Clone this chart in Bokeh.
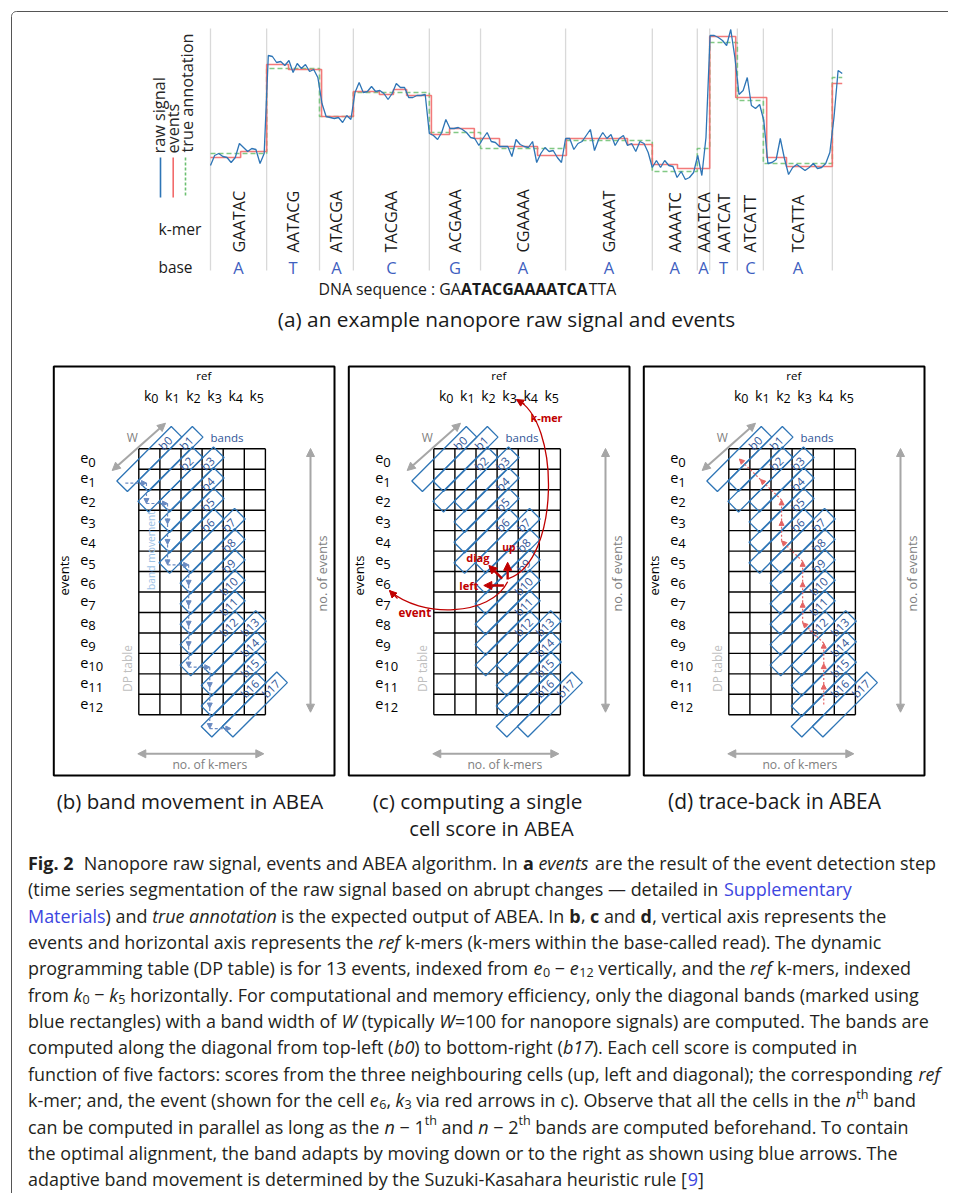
import math
from bokeh.plotting import figure
from bokeh.models import Range1d, ColumnDataSource, Arrow, NormalHead
from bokeh.core.properties import value, field
from bokeh.embed import file_html
from bokeh.resources import INLINE

# ---------------- data ----------------
# (a) raw signal, one value per sample (arbitrary current units)
raw_signal = [
    15, 25, 27, 24, 23, 18, 23, 37, 33, 29,
    32, 31, 17, 27, 125, 124, 118, 119, 115, 120,
    108, 117, 112, 116, 109, 111, 103, 77, 64, 63,
    62, 63, 58, 65, 61, 88, 98, 88, 89, 94,
    89, 90, 87, 81, 87, 97, 93, 93, 83, 83,
    85, 85, 86, 47, 45, 41, 48, 61, 52, 52,
    53, 51, 48, 43, 42, 35, 42, 48, 39, 38,
    34, 34, 34, 24, 41, 36, 34, 33, 39, 18,
    27, 33, 29, 30, 23, 18, 42, 42, 31, 37,
    39, 45, 51, 30, 41, 48, 42, 46, 35, 42,
    45, 35, 37, 29, 39, 37, 28, 13, 20, 13,
    20, 15, 14, 3, 9, 1, 3, 8, 25, 5,
    43, 145, 145, 143, 140, 135, 151, 123, 86, 90,
    103, 75, 72, 76, 60, 17, 18, 21, 42, 22,
    6, 13, 16, 13, 10, 13, 17, 12, 13, 17,
    28, 63, 110, 107]
# detected events: boundaries (in samples) and mean levels
event_bounds = [0, 7.3, 13.6, 18.9, 26.9, 34.6, 40.9, 44.3, 47.5, 53.5, 57.9, 63.9,
                70.0, 79.2, 86.2, 101.0, 107.0, 113.1, 120.9, 127.2, 134.7, 139.5, 150.6, 153.0]
event_levels = [23, 29, 116, 111, 64, 89, 86, 91, 85, 46, 52, 42, 34, 25, 42, 36, 16, 12,
                144, 83, 23, 14, 97]
# true annotation: k-mer boundaries (in samples) and model levels
annot_bounds = [0, 13.6, 26.4, 34.6, 53.0, 65.4, 86.0, 107.0, 117.9, 120.9, 127.6, 133.9, 150.6, 153.0]
annot_levels = [27, 112, 64, 88, 48, 32, 40, 9, 32, 138, 80, 17, 103]
kmers = ["GAATAC", "AATACG", "ATACGA", "TACGAA", "ACGAAA", "CGAAAA", "GAAAAT",
         "AAAATC", "AAATCA", "AATCAT", "ATCATT", "TCATTA"]
bases = ["A", "T", "A", "C", "G", "A", "A", "A", "A", "T", "C", "A"]

# (b)-(d) DP table
n_events = 13
n_kmers = 6
band_moves = ["R", "D", "R", "D", "D", "D", "R", "D", "D", "D", "D", "D", "R", "D", "D", "D", "R"]
example_cell = (3, 6)        # (k, e) cell explained in (c)
trace_k = [4, 4, 4, 4, 3, 3, 3, 3, 2, 2, 2, 1, 0]
trace_e = [12, 11, 10, 9, 8, 7, 6, 5, 4, 3, 2, 1, 0]
panel_titles = [["(b) band movement in ABEA"],
                ["(c) computing a single", "cell score in ABEA"],
                ["(d) trace-back in ABEA"]]

CAPTION_LINES = [
    [("Fig. 2", "b"), ("  Nanopore raw signal, events and ABEA algorithm. In ", "n"), ("a", "b"), (" ", "n"),
     ("events", "i"), (" are the result of the event detection step", "n")],
    [("(time series segmentation of the raw signal based on abrupt changes \u2014 detailed in ", "n"),
     ("Supplementary", "link")],
    [("Materials", "link"), (") and ", "n"), ("true annotation", "i"), (" is the expected output of ABEA. In ", "n"),
     ("b", "b"), (", ", "n"), ("c", "b"), (" and ", "n"), ("d", "b"), (", vertical axis represents the", "n")],
    [("events and horizontal axis represents the ", "n"), ("ref", "i"),
     (" k-mers (k-mers within the base-called read). The dynamic", "n")],
    [("programming table (DP table) is for 13 events, indexed from ", "n"), ("e", "i"), ("0", "sub"),
     (" \u2212 ", "n"), ("e", "i"), ("12", "sub"), (" vertically, and the ", "n"), ("ref", "i"),
     (" k-mers, indexed", "n")],
    [("from ", "n"), ("k", "i"), ("0", "sub"), (" \u2212 ", "n"), ("k", "i"), ("5", "sub"),
     (" horizontally. For computational and memory efficiency, only the diagonal bands (marked using", "n")],
    [("blue rectangles) with a band width of ", "n"), ("W", "i"), (" (typically ", "n"), ("W", "i"),
     ("=100 for nanopore signals) are computed. The bands are", "n")],
    [("computed along the diagonal from top-left (", "n"), ("b0", "i"), (") to bottom-right (", "n"),
     ("b17", "i"), ("). Each cell score is computed in", "n")],
    [("function of five factors: scores from the three neighbouring cells (up, left and diagonal); the corresponding ", "n"),
     ("ref", "i")],
    [("k-mer; and, the event (shown for the cell ", "n"), ("e", "i"), ("6", "sub"), (", ", "n"), ("k", "i"),
     ("3", "sub"), (" via red arrows in c). Observe that all the cells in the ", "n"), ("n", "i"), ("th", "sup"),
     (" band", "n")],
    [("can be computed in parallel as long as the ", "n"), ("n", "i"), (" \u2212 1", "n"), ("th", "sup"),
     (" and ", "n"), ("n", "i"), (" \u2212 2", "n"), ("th", "sup"),
     (" bands are computed beforehand. To contain", "n")],
    [("the optimal alignment, the band adapts by moving down or to the right as shown using blue arrows. The", "n")],
    [("adaptive band movement is determined by the Suzuki-Kasahara heuristic rule [", "n"), ("9", "link"), ("]", "n")],
]

# ---------------- styling / layout ----------------
FONT = value("Open Sans")
RAW_C, EV_C, TA_C = "#2e75b6", "#f26b6b", "#6cc070"
BAND_C, BAND_TXT = "#2e75b6", "#2f5597"
GRAY_A, GRAY_T, DP_T = "#a6a6a6", "#808080", "#bfbfbf"
MOVE_C, MOVE_T = "#6a8bc2", "#9dc3e6"
RED, TRACE_C = "#c00000", "#e46464"
BASE_C = "#3f5fbf"
CAP_C, LINK_C = "#231f20", "#3c46e0"

X0, Y0, FW, FH = 0, 0, 948, 1193
p = figure(width=FW, height=FH, x_range=Range1d(X0, X0 + FW), y_range=Range1d(Y0 + FH, Y0),
           output_backend="svg", toolbar_location=None, x_axis_type=None, y_axis_type=None,
           min_border=0, outline_line_color=None)
p.grid.visible = False
p.background_fill_color = "white"

# approx Open Sans advance widths (units / 2048)
_W = {' ': 532, '!': 547, '(': 606, ')': 606, ',': 502, '-': 659, '.': 545, '/': 752, ':': 545, ';': 545,
      '=': 1171, '[': 674, ']': 674, '\u2014': 2048, '\u2212': 1171,
      'A': 1296, 'B': 1327, 'C': 1292, 'D': 1493, 'E': 1139, 'F': 1057, 'G': 1491, 'H': 1511, 'I': 571,
      'J': 547, 'K': 1257, 'L': 1063, 'M': 1849, 'N': 1544, 'O': 1595, 'P': 1233, 'Q': 1595, 'R': 1266,
      'S': 1104, 'T': 1143, 'U': 1511, 'V': 1212, 'W': 1890, 'X': 1178, 'Y': 1151, 'Z': 1165,
      'a': 1139, 'b': 1255, 'c': 975, 'd': 1255, 'e': 1149, 'f': 694, 'g': 1122, 'h': 1257, 'i': 518,
      'j': 518, 'k': 1075, 'l': 518, 'm': 1905, 'n': 1257, 'o': 1237, 'p': 1255, 'q': 1255, 'r': 836,
      's': 977, 't': 723, 'u': 1257, 'v': 1026, 'w': 1593, 'x': 1073, 'y': 1028, 'z': 977}


def em(s, style="normal"):
    w = sum(_W.get(ch, 1171 if ch.isdigit() else 1100) for ch in s) / 2048.0
    return w * (1.07 if style == "bold" else 0.945 if style == "italic" else 1.0)


def fit(s, width, style="normal"):
    return width / em(s, style)


def txt(x, y, s, size, color="#000000", align="left", baseline="middle", angle=0.0,
        style="normal", xr="default", yr="default", **kw):
    n = max(len(v) if isinstance(v, list) else 1 for v in (x, y, s))
    xs = x if isinstance(x, list) else [x] * n
    ys = y if isinstance(y, list) else [y] * n
    ss = s if isinstance(s, list) else [s] * n
    p.text(x=xs, y=ys, text=ss, text_font=FONT,
           text_font_size=f"{size:.2f}px", text_color=color, text_align=align,
           text_baseline=baseline, angle=angle, text_font_style=style,
           x_range_name=xr, y_range_name=yr, **kw)


# ---------------- frame ----------------
corner = [(16 + 5 * math.cos(a / 10 * math.pi / 2 + math.pi), 16 + 5 * math.sin(a / 10 * math.pi / 2 + math.pi))
          for a in range(11)]
p.line([11] + [c[0] for c in corner] + [X0 + FW], [Y0 + FH] + [c[1] for c in corner] + [11],
       line_color="#555555", line_width=1)

# ---------------- (a) signal ----------------
SIG_X0, SIG_DX, SIG_Y0 = 210.0, 4.129, 180.0
p.extra_x_ranges["t"] = Range1d((X0 - SIG_X0) / SIG_DX, (X0 + FW - SIG_X0) / SIG_DX)
p.extra_y_ranges["sig"] = Range1d(SIG_Y0 - (Y0 + FH), SIG_Y0 - Y0)

grid_b = annot_bounds[:len(kmers) + 1]
p.segment(x0=grid_b, y0=28, x1=grid_b, y1=270, x_range_name="t", line_color="#d9d9d9", line_width=1.3)

ax, ay = [], []
for i, L in enumerate(annot_levels):
    ax += [annot_bounds[i], annot_bounds[i + 1]]
    ay += [L, L]
p.line(ax, ay, x_range_name="t", y_range_name="sig", line_color=TA_C, line_width=1.6,
       line_dash="5 3", line_alpha=0.85)
ex, ey = [], []
for i, L in enumerate(event_levels):
    ex += [event_bounds[i], event_bounds[i + 1]]
    ey += [L, L]
p.line(ex, ey, x_range_name="t", y_range_name="sig", line_color=EV_C, line_width=1.6, line_alpha=0.9)
p.line(list(range(len(raw_signal))), raw_signal, x_range_name="t", y_range_name="sig",
       line_color=RAW_C, line_width=1.3)

# legend
leg_fs = fit("true annotation", 119)
txt(158, 153, "raw signal", leg_fs, "#262626", angle=math.pi / 2)
txt(172, 153, "events", leg_fs, "#262626", angle=math.pi / 2)
txt(186, 152, "true annotation", leg_fs, "#262626", angle=math.pi / 2)
p.segment(x0=[160, 172.7], y0=157, x1=[160, 172.7], y1=197, line_color=[RAW_C, EV_C], line_width=1.6)
p.segment(x0=185, y0=157, x1=185, y1=197, line_color=TA_C, line_width=1.6, line_dash="3 2")

kc = [(annot_bounds[i] + annot_bounds[i + 1]) / 2 for i in range(len(kmers))]
km_fs = fit("GAATAC", 62)
txt(kc, 252, kmers, km_fs, "#1a1a1a", angle=math.pi / 2, xr="t")
txt(kc, 267, bases, 16.5, BASE_C, align="center", xr="t")
txt(158, 228, "k-mer", fit("k-mer", 43), "#1a1a1a")
txt(158, 267, "base", fit("base", 34), "#1a1a1a")

dna = [("DNA sequence : GA", "normal"), ("ATACGAAAATCA", "bold"), ("TTA", "normal")]
dna_fs = 298 / sum(em(t, s) for t, s in dna)
xc = 318
for t, s in dna:
    txt(xc, 288, t, dna_fs, "#1a1a1a", style=s)
    xc += em(t, s) * dna_fs
t_a = "(a) an example nanopore raw signal and events"
txt(506, 318, t_a, fit(t_a, 458), "#1a1a1a", align="center")

# ---------------- (b)-(d) DP tables ----------------
CW, RH, GRID_TOP = 21.1, 20.46, 448.3
PANEL_LEFT = [53.3, 348.3, 643.3]
p.extra_y_ranges["gy"] = Range1d((Y0 + FH - GRID_TOP) / RH, (Y0 - GRID_TOP) / RH)

band_R, band_D = [0], [0]
for m in band_moves:
    band_R.append(band_R[-1] + (1 if m == "R" else 0))
    band_D.append(band_D[-1] + (1 if m == "D" else 0))
bx = [r + 0.5 for r in band_R]
by = [d + 0.5 for d in band_D]
blabels = [f"b{i}" for i in range(len(bx))]

for k, pl in enumerate(PANEL_LEFT):
    gl = pl + 85
    xr = f"g{k}"
    p.extra_x_ranges[xr] = Range1d((X0 - gl) / CW, (X0 + FW - gl) / CW)
    p.quad(left=pl, right=pl + 280.7, top=366, bottom=775, fill_color=None, line_color="black", line_width=2)
    cols = list(range(n_kmers + 1))
    rows = list(range(n_events + 1))
    p.segment(x0=cols, y0=0, x1=cols, y1=n_events, x_range_name=xr, y_range_name="gy",
              line_color="black", line_width=1.4)
    p.segment(x0=0, y0=rows, x1=n_kmers, y1=rows, x_range_name=xr, y_range_name="gy",
              line_color="black", line_width=1.4)
    # texts
    txt(pl + 150, 375, "ref", fit("ref", 15), align="center")
    txt([c + 0.5 for c in range(n_kmers)], 395, ["k"] * n_kmers, 14, align="right", xr=xr, x_offset=2)
    txt([c + 0.5 for c in range(n_kmers)], 395, [str(c) for c in range(n_kmers)], 12.5, xr=xr,
        x_offset=2, y_offset=3)
    txt(pl + 34.5, [r + 0.5 for r in range(n_events)], ["e"] * n_events, 14.5, align="right", yr="gy",
        y_offset=-1)
    txt(pl + 34.5, [r + 0.5 for r in range(n_events)], [str(r) for r in range(n_events)], 13, yr="gy",
        y_offset=3)
    txt(pl + 10, 575, "events", fit("events", 40), align="center", angle=math.pi / 2)
    txt(pl + 78.4, 437, "W", 12, GRAY_T, align="center")
    txt(pl + 156.7, 437, "bands", fit("bands", 33), BAND_TXT)
    txt(pl + 268.4, 573, "no. of events", fit("no. of events", 76), GRAY_T, align="center", angle=math.pi / 2)
    txt(pl + 73.4, 668, "DP table", fit("DP table", 47), DP_T, align="center", angle=math.pi / 2)
    txt(pl + 156, 764, "no. of k-mers", fit("no. of k-mers", 75), GRAY_T, align="center")
    # gray arrows
    gsrc = ColumnDataSource(dict(x0=[pl + 58.4, pl + 256.7, pl + 84], y0=[470, 448, 753.3],
                                 x1=[pl + 111.7, pl + 256.7, pl + 210], y1=[422.7, 711.7, 753.3]))
    p.add_layout(Arrow(source=gsrc, x_start="x0", y_start="y0", x_end="x1", y_end="y1",
                       line_color=GRAY_A, line_width=2,
                       start=NormalHead(size=8, fill_color=GRAY_A, line_color=GRAY_A),
                       end=NormalHead(size=8, fill_color=GRAY_A, line_color=GRAY_A)))
    # bands
    p.rect(x=bx, y=by, width=77, height=15, width_units="screen", height_units="screen",
           angle=math.pi / 4, fill_color=None, line_color=BAND_C, line_width=1.3,
           x_range_name=xr, y_range_name="gy")
    txt(bx, by, blabels, 11.5, BAND_TXT, align="center", angle=math.pi / 4, xr=xr, yr="gy",
        x_offset=16, y_offset=-16)

# (b) band movement arrows
mx = [r + 0.5 - 24 / CW for r in band_R]
my = [d + 0.5 + 24 / RH for d in band_D]
msrc = ColumnDataSource(dict(x0=mx[:-1], y0=my[:-1], x1=mx[1:], y1=my[1:]))
p.add_layout(Arrow(source=msrc, x_start="x0", y_start="y0", x_end="x1", y_end="y1",
                   x_range_name="g0", y_range_name="gy", line_color=MOVE_C, line_width=1.2,
                   line_dash="3 2", end=NormalHead(size=5, fill_color=MOVE_C, line_color=MOVE_C)))
txt(PANEL_LEFT[0] + 96.7, 550, "band movement", fit("band movement", 79), MOVE_T, align="center",
    angle=math.pi / 2)

# (c) single cell score
ck, ce = example_cell[0] + 0.5, example_cell[1] + 0.5
rsrc = ColumnDataSource(dict(x0=[ck, ck - 0.26, ck - 0.18], y0=[ce - 0.11, ce - 0.15, ce + 0.18],
                             x1=[ck, ck - 0.89, ck - 1.13], y1=[ce - 0.95, ce - 0.8, ce + 0.18]))
p.add_layout(Arrow(source=rsrc, x_start="x0", y_start="y0", x_end="x1", y_end="y1",
                   x_range_name="g1", y_range_name="gy", line_color=RED, line_width=2.4,
                   end=NormalHead(size=8, fill_color=RED, line_color=RED)))
p.bezier(x0=[ck + 0.04, ck], y0=[ce - 0.16, ce], x1=[ck + 0.42, ck - 5.6], y1=[ce - 8.91, ce + 0.43],
         cx0=[ck + 2.5, ck - 0.81], cy0=[ce - 1.04, ce + 1.7], cx1=[ck + 2.5, ck - 4.13], cy1=[ce - 7.89, ce + 1.79],
         x_range_name="g1", y_range_name="gy", line_color=RED, line_width=1.3)
hsrc = ColumnDataSource(dict(x0=[ck + 0.8, ck - 5.22], y0=[ce - 8.67, ce + 0.82],
                             x1=[ck + 0.42, ck - 5.6], y1=[ce - 8.91, ce + 0.43]))
p.add_layout(Arrow(source=hsrc, x_start="x0", y_start="y0", x_end="x1", y_end="y1",
                   x_range_name="g1", y_range_name="gy", line_color=RED, line_width=1.3,
                   end=NormalHead(size=7, fill_color=RED, line_color=RED)))
pc = PANEL_LEFT[1]
txt(pc + 181.7, 416.7, "k-mer", fit("k-mer", 31.7, "bold"), RED, style="bold")
txt(pc + 160, 546, "up", fit("up", 13.3, "bold"), RED, align="center", style="bold")
txt(pc + 129, 557, "diag", fit("diag", 23.3, "bold"), RED, align="center", style="bold")
txt(pc + 120, 585, "left", fit("left", 18, "bold"), RED, align="center", style="bold")
txt(pc + 66, 612, "event", fit("event", 32, "bold"), RED, align="center", style="bold")

# (d) trace-back
tsrc = ColumnDataSource(dict(x0=[k + 0.5 for k in trace_k[:-1]], y0=[e + 0.5 for e in trace_e[:-1]],
                             x1=[k + 0.5 for k in trace_k[1:]], y1=[e + 0.5 for e in trace_e[1:]]))
p.add_layout(Arrow(source=tsrc, x_start="x0", y_start="y0", x_end="x1", y_end="y1",
                   x_range_name="g2", y_range_name="gy", line_color=TRACE_C, line_width=1.2,
                   line_dash="2 2", end=NormalHead(size=5, fill_color=TRACE_C, line_color=TRACE_C)))

# panel titles
title_pos = [[(189.5, 800, 267)], [(477, 800, 210), (491, 828, 164.5)], [(774, 800, 213)]]
for lines, poss in zip(panel_titles, title_pos):
    for s, (cx, cy, w) in zip(lines, poss):
        txt(cx, cy, s, fit(s, w), "#1a1a1a", align="center")

# ---------------- caption ----------------
def seg_em(t, kind):
    if kind == "b":
        return em(t, "bold")
    if kind == "i":
        return em(t, "italic")
    if kind in ("sub", "sup"):
        return em(t) * 0.7
    return em(t)


CAP_X, CAP_Y, CAP_DY, CAP_W = 27.5, 862.5, 26.35, 908
cap_fs = CAP_W / sum(seg_em(t, k) for t, k in CAPTION_LINES[0])
cx_, cy_, ct, cs, cst, ccol = [], [], [], [], [], []
for li, line in enumerate(CAPTION_LINES):
    x = CAP_X
    y = CAP_Y + li * CAP_DY
    for t, kind in line:
        size = cap_fs * (0.7 if kind in ("sub", "sup") else 1.0)
        dy = 4.5 if kind == "sub" else -6 if kind == "sup" else 0
        lead = len(t) - len(t.lstrip(" "))
        body = t.strip(" ")
        if body:
            cx_.append(x + em(" " * lead) * size)
            cy_.append(y + dy)
            ct.append(body)
            cs.append(f"{size:.2f}px")
            cst.append("bold" if kind == "b" else "italic" if kind == "i" else "normal")
            ccol.append(LINK_C if kind == "link" else CAP_C)
        x += seg_em(t, kind) * cap_fs
csrc = ColumnDataSource(dict(x=cx_, y=cy_, text=ct, size=cs, style=cst, color=ccol))
p.text(x="x", y="y", text="text", source=csrc, text_font=FONT, text_font_size=field("size"),
       text_font_style=field("style"), text_color=field("color"), text_align="left",
       text_baseline="middle")

open("out.html", "w").write(file_html(p, INLINE, title="Fig. 2"))
